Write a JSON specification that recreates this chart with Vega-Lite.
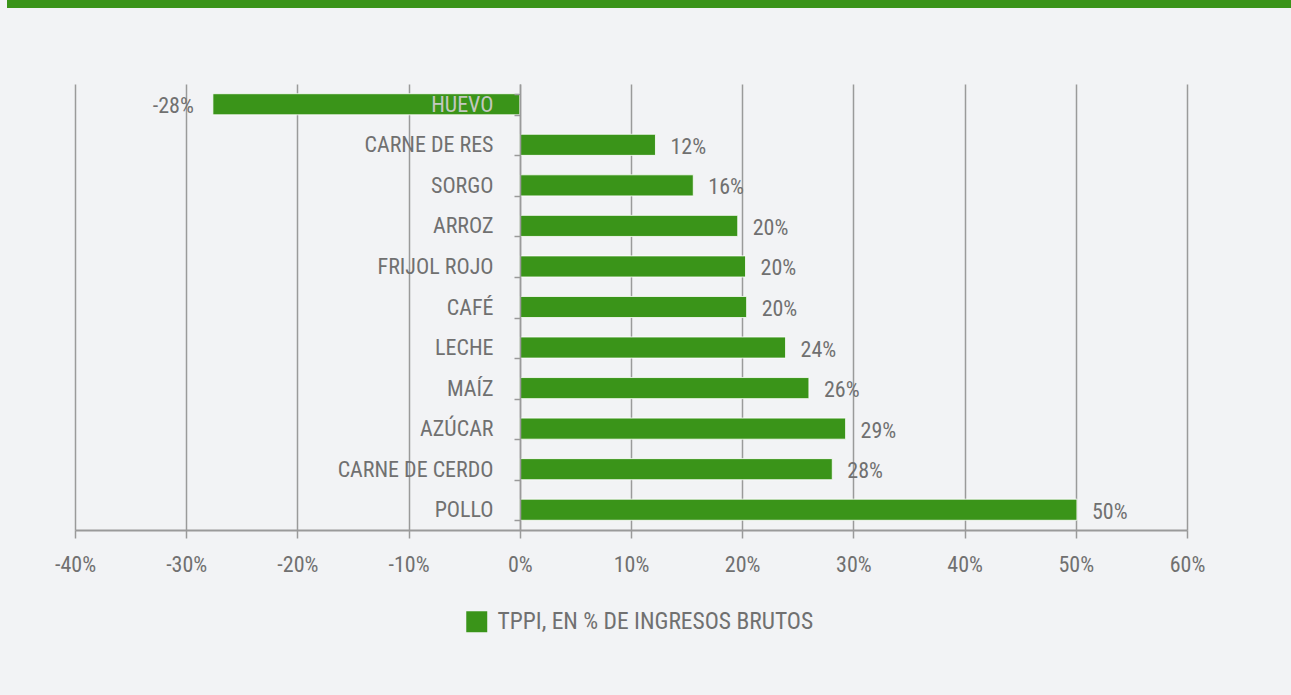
{
  "$schema": "https://vega.github.io/schema/vega-lite/v6.json",
  "background": "#f2f3f5",
  "padding": {"left": 7, "top": 0, "right": 0, "bottom": 80},
  "spacing": 65,
  "resolve": {"legend": {"color": "independent"}},
  "config": {
    "view": {"stroke": null},
    "font": "Liberation Sans Narrow, Roboto Condensed, DejaVu Sans Condensed, sans-serif",
    "text": {"font": "Liberation Sans Narrow, Roboto Condensed, DejaVu Sans Condensed, sans-serif"}
  },
  "datasets": {
    "tppi": [
      {"producto": "HUEVO", "valor": -27.6, "etiqueta": "-28%"},
      {"producto": "CARNE DE RES", "valor": 12.2, "etiqueta": "12%"},
      {"producto": "SORGO", "valor": 15.6, "etiqueta": "16%"},
      {"producto": "ARROZ", "valor": 19.6, "etiqueta": "20%"},
      {"producto": "FRIJOL ROJO", "valor": 20.3, "etiqueta": "20%"},
      {"producto": "CAFÉ", "valor": 20.4, "etiqueta": "20%"},
      {"producto": "LECHE", "valor": 23.9, "etiqueta": "24%"},
      {"producto": "MAÍZ", "valor": 26.0, "etiqueta": "26%"},
      {"producto": "AZÚCAR", "valor": 29.3, "etiqueta": "29%"},
      {"producto": "CARNE DE CERDO", "valor": 28.1, "etiqueta": "28%"},
      {"producto": "POLLO", "valor": 50.1, "etiqueta": "50%"}
    ]
  },
  "vconcat": [
    {
      "width": 1284,
      "height": 8,
      "view": {"fill": "#3a9419", "stroke": null},
      "data": {"values": [{"k": 1}]},
      "mark": {"type": "point", "opacity": 0, "size": 1},
      "encoding": {}
    },
    {
      "spacing": 46,
      "resolve": {"legend": {"color": "independent"}},
      "hconcat": [
        {
          "width": 1,
          "height": 1,
          "data": {"values": [{"k": 1}]},
          "mark": {"type": "point", "opacity": 0, "size": 1},
          "encoding": {}
        },
        {
          "width": 1112,
          "height": 446,
          "data": {"name": "tppi"},
          "encoding": {
            "y": {
              "field": "producto",
              "type": "nominal",
              "sort": null,
              "scale": {"paddingInner": 0.48, "paddingOuter": 0.24},
              "axis": {
                "title": null,
                "offset": -445,
                "zindex": 1,
                "grid": false,
                "domainColor": "#9a9a9a",
                "domainWidth": 1.5,
                "tickColor": "#9a9a9a",
                "tickWidth": 1.5,
                "tickSize": 6,
                "tickBand": "extent",
                "labelPadding": 21,
                "labelFontSize": 22,
                "labelColor": {"condition": {"test": "datum.value === 'HUEVO'", "value": "#c3c8c0"}, "value": "#707070"}
              }
            }
          },
          "layer": [
            {
              "mark": {"type": "bar", "stroke": "#ffffff", "strokeWidth": 1, "strokeOpacity": 0.8},
              "encoding": {
                "x": {
                  "field": "valor",
                  "type": "quantitative",
                  "scale": {"domain": [-40, 60], "nice": false},
                  "axis": {
                    "values": [-40, -30, -20, -10, 0, 10, 20, 30, 40, 50, 60],
                    "labelExpr": "datum.value + '%'",
                    "labelFlush": false,
                    "grid": true,
                    "gridColor": "#9a9a9a",
                    "gridWidth": 1.5,
                    "domainColor": "#9a9a9a",
                    "domainWidth": 2,
                    "tickColor": "#9a9a9a",
                    "tickWidth": 1.5,
                    "tickSize": 8,
                    "labelPadding": 16,
                    "labelFontSize": 22,
                    "labelColor": "#707070",
                    "title": null
                  }
                },
                "color": {
                  "datum": "TPPI, EN % DE INGRESOS BRUTOS",
                  "type": "nominal",
                  "scale": {"range": ["#3a9419"]},
                  "legend": {
                    "title": null,
                    "orient": "none",
                    "legendX": 390,
                    "legendY": 526,
                    "symbolType": "square",
                    "symbolSize": 440,
                    "symbolStrokeWidth": 0,
                    "labelFontSize": 23.5,
                    "labelLimit": 0,
                    "labelColor": "#707070",
                    "labelOffset": 9,
                    "padding": 0
                  }
                }
              }
            },
            {
              "transform": [{"filter": "datum.valor >= 0"}],
              "mark": {"type": "text", "align": "left", "baseline": "middle", "dx": 15, "dy": 2, "fontSize": 22, "color": "#707070"},
              "encoding": {
                "x": {"field": "valor", "type": "quantitative"},
                "text": {"field": "etiqueta"}
              }
            },
            {
              "transform": [{"filter": "datum.valor < 0"}],
              "mark": {"type": "text", "align": "right", "baseline": "middle", "dx": -19, "dy": 2, "fontSize": 22, "color": "#707070"},
              "encoding": {
                "x": {"field": "valor", "type": "quantitative"},
                "text": {"field": "etiqueta"}
              }
            }
          ]
        }
      ]
    }
  ]
}
